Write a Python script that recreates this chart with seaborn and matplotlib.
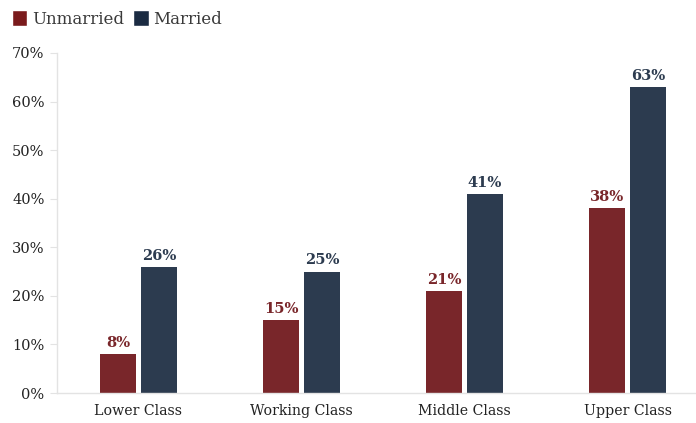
import pandas as pd
import numpy as np
import matplotlib
matplotlib.use("Agg")
import matplotlib.pyplot as plt
import seaborn as sns
from matplotlib.patches import Patch

# ================== data ==================
classes = ["Lower Class", "Working Class", "Middle Class", "Upper Class"]
unmarried = [8, 15, 21, 38]
married = [26, 25, 41, 63]
groups = ["Unmarried", "Married"]
colors = {"Unmarried": "#79262A", "Married": "#2C3B4F"}
legend_colors = {"Unmarried": "#7A1A1C", "Married": "#1B2B42"}

df = pd.DataFrame({
    "cls": classes * 2,
    "group": ["Unmarried"] * 4 + ["Married"] * 4,
    "value": unmarried + married,
})

sns.set_style("white")
plt.rcParams["font.family"] = ["DejaVu Serif"]

fig = plt.figure(figsize=(6.96, 4.23), dpi=100)
ax = fig.add_axes([57 / 696, 30 / 423, 652 / 696, 340 / 423])

sns.barplot(data=df, x="cls", y="value", hue="group", hue_order=groups,
            palette=colors, width=0.503, gap=0.146, ax=ax, legend=False,
            saturation=1, errorbar=None, linewidth=0)

# value labels
for cont, g in zip(ax.containers, groups):
    ax.bar_label(cont, labels=[f"{v:.0f}%" for v in cont.datavalues],
                 padding=3, color=colors[g], fontsize=10.5, fontweight="bold")

ax.set_ylim(0, 70)
ax.set_xlim(-0.5, 3.5)
ax.set_yticks(range(0, 71, 10))
ax.set_yticklabels([f"{t}%" for t in range(0, 71, 10)])
ax.set_xlabel("")
ax.set_ylabel("")

for s in ["top", "right"]:
    ax.spines[s].set_visible(False)
for s in ["left", "bottom"]:
    ax.spines[s].set_color("#E3E3E3")
    ax.spines[s].set_linewidth(1)

ax.tick_params(axis="y", length=5, color="#E3E3E3", labelsize=10.5,
               labelcolor="#222222", pad=4, left=True)
ax.tick_params(axis="x", length=0, labelsize=10.2, labelcolor="#222222", pad=8)

# legend at top-left
handles = [Patch(facecolor=legend_colors[g], label=g) for g in groups]
fig.legend(handles=handles, loc="upper left", bbox_to_anchor=(-0.005, 1.012),
           ncol=2, frameon=False, fontsize=12, handlelength=0.95,
           handleheight=1.1, handletextpad=0.3, columnspacing=0.5,
           labelcolor="#3A3A3A")

fig.savefig("out.png", dpi=100)
